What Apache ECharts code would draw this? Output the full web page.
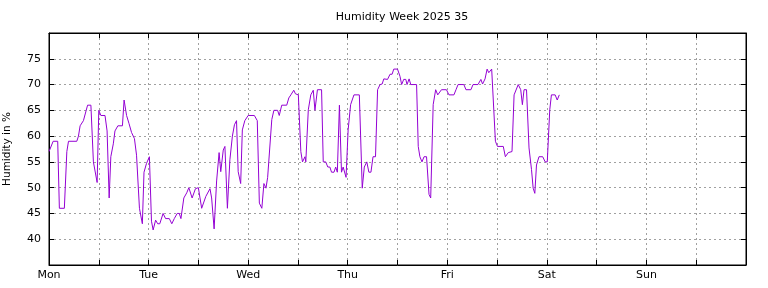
<!DOCTYPE html>
<html>
<head>
<meta charset="utf-8">
<script src="https://cdn.jsdelivr.net/npm/echarts@6/dist/echarts.min.js"></script>
<style>
  html, body { margin: 0; padding: 0; background: #fff; }
  #hum { width: 768px; height: 288px; }
</style>
</head>
<body>
<div id="hum"></div>
<script>
// hours since Monday 00:00
var hours = [
  0, 1.0, 2.1, 2.5, 3.7, 4.3, 4.7, 6.7, 7.1, 7.5, 8.3, 9.3, 10.1, 10.7, 11.6,
  12.0, 12.5, 13.5, 14.0, 14.5, 14.9, 15.5, 15.9, 16.6, 17.7, 18.1, 18.7, 19.3,
  19.9, 20.6, 21.1, 21.8, 22.5, 22.9, 23.5, 24.2, 24.7, 25.1, 25.7, 26.2, 26.7,
  27.5, 28.1, 29.0, 29.6, 30.2, 30.9, 31.4, 31.8, 32.5, 33.2, 33.7, 34.5, 35.3,
  36.0, 36.8, 37.2, 37.8, 38.8, 39.2, 39.8, 40.4, 41.0, 41.4, 42.0, 42.4, 43.0,
  43.6, 44.2, 44.7, 45.2, 45.6, 46.2, 46.6, 47.2, 47.6, 48.0, 49.5, 50.2, 50.7,
  51.3, 51.8, 52.3, 52.7, 53.1, 53.7, 54.2, 55.1, 55.5, 56.1, 57.3, 57.8, 58.3,
  59.0, 59.4, 60.1, 60.7, 61.1, 61.7, 61.9, 62.5, 63.1, 63.7, 64.1, 64.7, 65.7,
  66.1, 66.7, 67.2, 67.7, 68.1, 68.7, 69.1, 69.5, 70.0, 70.5, 70.9, 71.6, 72.1,
  72.7, 73.5, 74.8, 75.5, 76.0, 76.6, 77.1, 77.6, 78.1, 78.7, 79.2, 79.8, 80.3,
  80.7, 81.6, 82.2, 82.7, 83.1, 84.0, 84.6, 85.0, 85.5, 86.0, 86.3, 86.8, 87.2,
  88.6, 89.0, 89.4, 89.9, 90.4, 91.0, 91.6, 92.0, 92.6, 93.2, 93.7, 94.0, 94.6,
  95.8, 96.4, 97.6, 98.1, 98.6, 100.0, 100.5, 101.7, 102.2, 103.4, 104.1, 104.5,
  105.1, 105.6, 106.0, 106.7, 107.1, 107.6, 108.1, 109.5, 110.0, 110.7, 111.6,
  112.1, 112.5, 113.1, 113.7, 114.1, 114.5, 115.1, 115.7, 116.3, 116.7, 117.1,
  117.5, 118.1, 119.0, 119.6, 120.1, 120.7, 121.1, 122.0, 122.5, 123.0
];
var humidity = [
  57, 59, 59, 46, 46, 57, 59, 59, 60, 62, 63, 66, 66, 55, 51,
  65, 64, 64, 61, 48, 56, 58.5, 61, 62, 62, 67, 64, 62.4,
  60.7, 59.5, 56.3, 46, 43, 53, 54.7, 56, 43.5, 41.8, 43.7, 43, 43,
  45, 44, 44, 43, 44, 45, 45, 44, 48, 49, 50, 48, 49.8,
  50, 46, 46, 48.3, 49.8, 48, 42, 51.3, 56.8, 53.1, 57.3, 58, 46,
  55.4, 60, 62.2, 63, 53.1, 50.8, 61.2, 63, 63, 64, 64, 63, 47,
  46, 50.8, 49.9, 52, 52, 63.2, 65, 65, 64, 66, 66, 67.4, 68,
  68.9, 68.2, 68, 57, 55, 56, 55, 65.1, 68, 68.9, 65, 69, 69,
  55, 55, 54, 54, 53, 53, 54, 53, 66, 53, 54, 52, 61.2,
  66.1, 68, 68, 49.9, 54, 55, 53, 53, 56, 56, 69, 70, 70.1,
  71.1, 71, 72, 72, 73, 73, 71.6, 70, 71, 71, 70, 71.1, 70,
  70, 58, 56, 55, 56, 56, 48.7, 48, 66.1, 69, 68, 68, 69,
  69, 68, 68, 69, 70, 70, 69, 69, 70, 70, 71, 70.1,
  71.1, 73, 72.3, 73, 73, 59, 58, 58, 56, 56.8, 57,
  68, 68, 70, 69, 66.1, 69, 69, 57.7, 53.5, 49.9, 48.9,
  54.4, 56, 56, 55, 55, 65.1, 68, 68, 67, 68
];
var days = ['Mon', 'Tue', 'Wed', 'Thu', 'Fri', 'Sat', 'Sun'];

var points = hours.map(function (h, i) { return [h, humidity[i]]; });

var chart = echarts.init(document.getElementById('hum'));
var font = 'DejaVu Sans';
var dotted = { show: true, showMinLine: false, showMaxLine: false, lineStyle: { color: '#a0a0a0', type: [2, 3], width: 1 } };
var tick = { show: true, inside: true, length: 5, lineStyle: { color: '#000' } };
var line = { show: true, onZero: false, lineStyle: { color: '#000', width: 1 } };

chart.setOption({
  animation: false,
  title: {
    text: 'Humidity Week 2025 35',
    left: 397, top: 7, textAlign: 'center',
    textStyle: { fontFamily: font, fontSize: 11, fontWeight: 'normal', color: '#000' }
  },
  grid: {
    left: 49, right: 22, top: 33, bottom: 23,
    outerBoundsMode: 'none', containLabel: false,
    show: true, borderColor: '#000', borderWidth: 1
  },
  xAxis: [
    {
      type: 'value', min: 0, max: 168, interval: 12, position: 'bottom',
      axisLine: line, axisTick: tick, splitLine: dotted,
      axisLabel: {
        margin: 5, fontFamily: font, fontSize: 11, color: '#000',
        formatter: function (v) { return (v % 24 === 0 && v < 168) ? days[v / 24] : ''; }
      }
    },
    {
      type: 'value', min: 0, max: 168, interval: 12, position: 'top',
      axisLine: line, axisTick: tick, splitLine: { show: false }, axisLabel: { show: false }
    }
  ],
  yAxis: [
    {
      type: 'value', min: 35, max: 80, interval: 5, position: 'left',
      name: 'Humidity in %', nameLocation: 'middle', nameGap: 36, nameRotate: 90,
      nameTextStyle: { fontFamily: font, fontSize: 10.5, color: '#000' },
      axisLine: line, axisTick: tick, splitLine: dotted,
      axisLabel: {
        margin: 8, fontFamily: font, fontSize: 11, color: '#000',
        formatter: function (v) { return (v === 35 || v === 80) ? '' : v; }
      }
    },
    {
      type: 'value', min: 35, max: 80, interval: 5, position: 'right',
      axisLine: line, axisTick: tick, splitLine: { show: false }, axisLabel: { show: false }
    }
  ],
  series: [
    {
      type: 'line', data: points, showSymbol: false, symbol: 'none',
      lineStyle: { color: '#9400d3', width: 1 }
    }
  ]
});
</script>
</body>
</html>
